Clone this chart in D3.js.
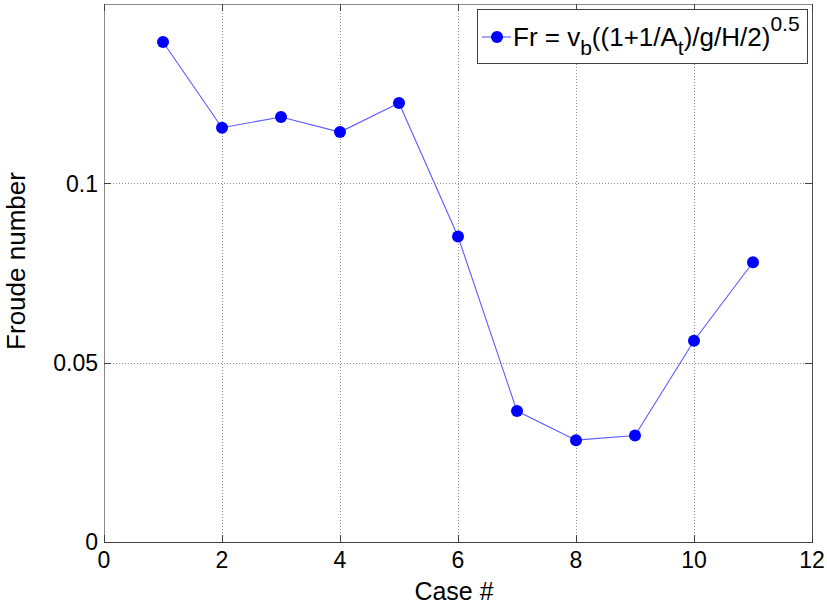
<!DOCTYPE html>
<html>
<head>
    <meta charset="UTF-8">
    <title>Froude number</title>
    <script src="https://d3js.org/d3.v7.min.js"></script>
    <style type="text/css">
        body { margin: 0; background: #fff; }
        text { font-family: "Liberation Sans", Arial, sans-serif; fill: #000; }
        .grid line { stroke: #8c8c8c; stroke-width: 1; stroke-dasharray: 1,2; shape-rendering: crispEdges; }
        .tick-mark { stroke: #404040; stroke-width: 1; shape-rendering: crispEdges; }
    </style>
</head>
<body>
<script type="text/javascript">
    // case numbers and Froude numbers
    var cases = [1, 2, 3, 4, 5, 6, 7, 8, 9, 10, 11];
    var froude = [0.1394, 0.1155, 0.1185, 0.1143, 0.1224, 0.0852, 0.0365, 0.0284, 0.0297, 0.0561, 0.0780];
    var xTicks = [0, 2, 4, 6, 8, 10, 12];
    var yTicks = [0, 0.05, 0.1];

    var W = 827, H = 606;
    var margin = {top: 4, right: 15, bottom: 64, left: 104};
    var width = W - margin.left - margin.right,
        height = H - margin.top - margin.bottom;

    var x = d3.scaleLinear().domain([0, 12]).range([0, width]);
    var y = d3.scaleLinear().domain([0, 0.15]).range([height, 0]);

    var svg = d3.select("body").append("svg")
        .attr("width", W)
        .attr("height", H);

    var g = svg.append("g")
        .attr("transform", "translate(" + margin.left + "," + margin.top + ")");

    // dotted grid
    var grid = g.append("g").attr("class", "grid");
    grid.selectAll(".gx")
        .data(xTicks.filter(function (d) { return d > 0 && d < 12; }))
        .enter().append("line")
        .attr("x1", function (d) { return Math.round(x(d)) + 0.5; })
        .attr("x2", function (d) { return Math.round(x(d)) + 0.5; })
        .attr("y1", 0).attr("y2", height);
    grid.selectAll(".gy")
        .data(yTicks.filter(function (d) { return d > 0; }))
        .enter().append("line")
        .attr("y1", function (d) { return Math.round(y(d)) + 0.5; })
        .attr("y2", function (d) { return Math.round(y(d)) + 0.5; })
        .attr("x1", 0).attr("x2", width);

    // box
    g.append("line").attr("x1", 0.5).attr("x2", 0.5).attr("y1", 0).attr("y2", height)
        .attr("stroke", "#8a8a8a");
    g.append("line").attr("x1", 0).attr("x2", width).attr("y1", 0.5).attr("y2", 0.5)
        .attr("stroke", "#8a8a8a");
    g.append("line").attr("x1", width + 0.5).attr("x2", width + 0.5).attr("y1", 0).attr("y2", height)
        .attr("stroke", "#505050");
    g.append("line").attr("x1", 0).attr("x2", width + 1).attr("y1", height + 0.5).attr("y2", height + 0.5)
        .attr("stroke", "#404040");

    // inward ticks on all four sides
    var tl = 7;
    xTicks.forEach(function (d) {
        var px = Math.round(x(d)) + 0.5;
        g.append("line").attr("class", "tick-mark").attr("x1", px).attr("x2", px)
            .attr("y1", height).attr("y2", height - tl);
        g.append("line").attr("class", "tick-mark").attr("x1", px).attr("x2", px)
            .attr("y1", 0).attr("y2", tl);
    });
    yTicks.forEach(function (d) {
        var py = Math.round(y(d)) + 0.5;
        g.append("line").attr("class", "tick-mark").attr("y1", py).attr("y2", py)
            .attr("x1", 0).attr("x2", tl);
        g.append("line").attr("class", "tick-mark").attr("y1", py).attr("y2", py)
            .attr("x1", width).attr("x2", width - tl);
    });

    // tick labels
    g.selectAll(".xl").data(xTicks).enter().append("text")
        .attr("x", function (d) { return x(d); })
        .attr("y", height + 26)
        .attr("text-anchor", "middle")
        .style("font-size", "23px")
        .text(function (d) { return d; });
    g.selectAll(".yl").data(yTicks).enter().append("text")
        .attr("x", -6)
        .attr("y", function (d) { return y(d); })
        .attr("dy", "0.36em")
        .attr("text-anchor", "end")
        .style("font-size", "23px")
        .text(function (d) { return d === 0 ? "0" : String(d); });

    // axis labels
    svg.append("text")
        .attr("x", margin.left + width / 2 - 4)
        .attr("y", 600)
        .attr("text-anchor", "middle")
        .style("font-size", "25px")
        .text("Case #");
    svg.append("text")
        .attr("transform", "translate(25," + (margin.top + height / 2 - 12) + ") rotate(-90)")
        .attr("text-anchor", "middle")
        .style("font-size", "26px")
        .text("Froude number");

    // data line and markers
    var pts = cases.map(function (c, i) { return [c, froude[i]]; });
    var line = d3.line()
        .x(function (d) { return x(d[0]); })
        .y(function (d) { return y(d[1]); });
    g.append("path")
        .attr("d", line(pts))
        .attr("fill", "none")
        .attr("stroke", "#5a5aff")
        .attr("stroke-width", 1.1);
    g.selectAll(".pt").data(pts).enter().append("circle")
        .attr("cx", function (d) { return x(d[0]); })
        .attr("cy", function (d) { return y(d[1]); })
        .attr("r", 6)
        .attr("fill", "#0000ff");

    // legend
    var lg = svg.append("g");
    lg.append("rect")
        .attr("x", 477.5).attr("y", 9.5)
        .attr("width", 330).attr("height", 54)
        .attr("fill", "#fff")
        .attr("stroke", "#404040");
    lg.append("line")
        .attr("x1", 482).attr("x2", 511).attr("y1", 37).attr("y2", 37)
        .attr("stroke", "#5a5aff").attr("stroke-width", 1.1);
    lg.append("circle").attr("cx", 497).attr("cy", 37).attr("r", 6).attr("fill", "#0000ff");
    var lt = lg.append("text")
        .attr("x", 513).attr("y", 46)
        .style("font-size", "26px");
    lt.append("tspan").text("Fr = v");
    lt.append("tspan").attr("dy", 9).style("font-size", "21px").text("b");
    lt.append("tspan").attr("dy", -9).text("((1+1/A");
    lt.append("tspan").attr("dy", 9).style("font-size", "21px").text("t");
    lt.append("tspan").attr("dy", -9).text(")/g/H/2)");
    lt.append("tspan").attr("dy", -15).style("font-size", "21px").text("0.5");
</script>
</body>
</html>
